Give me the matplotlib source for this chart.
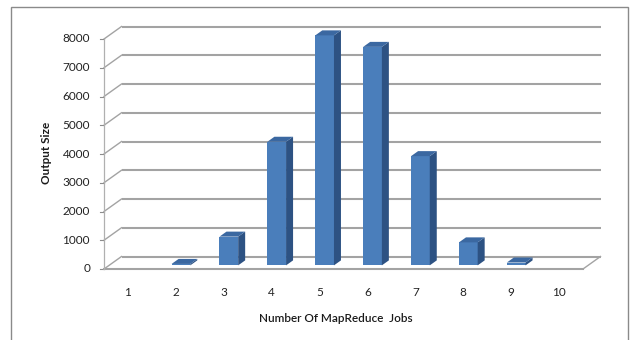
import matplotlib
matplotlib.use("Agg")
import matplotlib.pyplot as plt
from matplotlib.patches import Polygon, Rectangle

# Data
jobs = [1, 2, 3, 4, 5, 6, 7, 8, 9, 10]
output_size = [0, 50, 1000, 4300, 8000, 7600, 3800, 800, 100, 0]
y_ticks = [0, 1000, 2000, 3000, 4000, 5000, 6000, 7000, 8000]

plt.rcParams["font.family"] = ["Lato", "DejaVu Sans"]

W, H = 631, 340
fig = plt.figure(figsize=(W / 100, H / 100), dpi=100)

# Front plane of the pseudo-3D box
left_px, right_px, top_px, bottom_px = 104, 583, 39, 269
ax = fig.add_axes([left_px / W, (H - bottom_px) / H,
                   (right_px - left_px) / W, (bottom_px - top_px) / H])
ax.set_xlim(0.5, 10.5)
ax.set_ylim(0, 8000)
ax.axis("off")

# Depth of the box, in data units (about 17.5 px right, 12.5 px up)
px_x = 10 / (right_px - left_px)
px_y = 8000 / (bottom_px - top_px)
DX = 17.5 * px_x
DY = 12.5 * px_y

grid_c = "#a3a3a3"
lw_grid = 1.5

# Back wall gridlines and the left-wall diagonals
for v in y_ticks:
    ax.plot([0.5 + DX, 10.5 + DX], [v + DY, v + DY], color=grid_c, lw=lw_grid,
            clip_on=False, solid_capstyle="butt", zorder=1)
    ax.plot([0.5, 0.5 + DX], [v, v + DY], color=grid_c, lw=1.0,
            clip_on=False, zorder=1)
    ax.plot([0.5 - 4 * px_x, 0.5], [v, v], color="#8c8c8c", lw=0.8,
            clip_on=False, zorder=1)
    ax.text(0.5 - 14 * px_x, v, f"{v}", ha="right", va="center",
            fontsize=8.5, color="#222222")

# Floor edges and front axis line
ax.plot([0.5, 10.5], [0, 0], color=grid_c, lw=lw_grid, clip_on=False, zorder=1)
ax.plot([10.5, 10.5 + DX], [0, DY], color=grid_c, lw=1.0, clip_on=False, zorder=1)
ax.plot([0.5, 0.5], [0, 8000], color="#b0b0b0", lw=0.9, clip_on=False, zorder=1)

# Bars: front face, side face and top face
f0, f1 = 0.29, 0.69
bw = 0.39
front_c, side_c, top_c = "#4a7ebb", "#2d5283", "#3b68a1"
for x, v in zip(jobs, output_size):
    if v == 0:
        continue
    xl = x - bw / 2 + f0 * DX
    xr = x + bw / 2 + f0 * DX
    b0 = f0 * DY
    bars = ax.bar(x + f0 * DX, v, width=bw, bottom=b0, color=front_c,
                  edgecolor="none", zorder=3)
    for b in bars:
        b.set_clip_on(False)
    sdx, sdy = (f1 - f0) * DX, (f1 - f0) * DY
    side = Polygon([(xr, b0), (xr + sdx, b0 + sdy), (xr + sdx, b0 + v + sdy),
                    (xr, b0 + v)], closed=True, facecolor=side_c,
                   edgecolor="none", zorder=3, clip_on=False)
    top = Polygon([(xl, b0 + v), (xr, b0 + v), (xr + sdx, b0 + v + sdy),
                   (xl + sdx, b0 + v + sdy)], closed=True, facecolor=top_c,
                  edgecolor="none", zorder=4, clip_on=False)
    ax.add_patch(side)
    ax.add_patch(top)

# Category labels
for x in jobs:
    ax.text(x, -23 * px_y, str(x), ha="center", va="center",
            fontsize=8.5, color="#222222")

# Axis titles
fig.text(46 / W, 1 - 153 / H, "Output Size", rotation=90, ha="center",
         va="center", fontsize=8.5, fontweight="bold", color="#1a1a1a")
fig.text(336 / W, 1 - 318 / H, "Number Of MapReduce  Jobs", ha="center",
         va="center", fontsize=8.5, fontweight="semibold", color="#1a1a1a")

# Chart area border
fig.patches.append(Rectangle((11 / W, -0.02), (628 - 11) / W, 1 - 7 / H + 0.02,
                             transform=fig.transFigure, fill=False,
                             edgecolor="#8a8a8a", lw=1.0))

fig.savefig("out.png", dpi=100)
